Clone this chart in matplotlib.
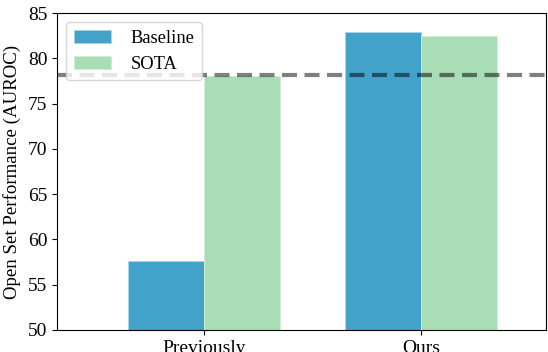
import numpy as np
import matplotlib
matplotlib.use("Agg")
import matplotlib.pyplot as plt

plt.rcParams['font.family'] = ['Liberation Serif', 'DejaVu Serif']

# data
groups = ['Previously', 'Ours']
baseline = [57.6, 82.9]
sota = [78.1, 82.5]
sota_ref = 78.2

fig = plt.figure(figsize=(5.48, 3.52), dpi=100)
ax = fig.add_axes([0.104, 0.0625, 0.8925, 0.9005])

x = np.arange(len(groups))
w = 0.35
ax.bar(x - w/2, baseline, w, color='#43a2ca', edgecolor='#a8d4e8', linewidth=0.6, label='Baseline', zorder=2)
ax.bar(x + w/2, sota, w, color='#a8ddb5', edgecolor='#d4eedb', linewidth=0.6, label='SOTA', zorder=2)
ax.axhline(sota_ref, color='black', alpha=0.5, linestyle=(0, (3.6, 1.8)), linewidth=3.0, zorder=3)

ax.set_ylim(50, 85)
ax.set_xlim(-0.677, 1.576)
ax.set_yticks([50, 55, 60, 65, 70, 75, 80, 85])
ax.set_xticks(x)
ax.set_xticklabels(groups)
ax.tick_params(labelsize=14)
ax.set_ylabel('Open Set Performance (AUROC)', fontsize=13.6, labelpad=5)
leg = ax.legend(loc='upper left', fontsize=13.3, framealpha=0.8, handletextpad=1.1)
leg.set_zorder(5)

fig.savefig('out.png', dpi=100)
